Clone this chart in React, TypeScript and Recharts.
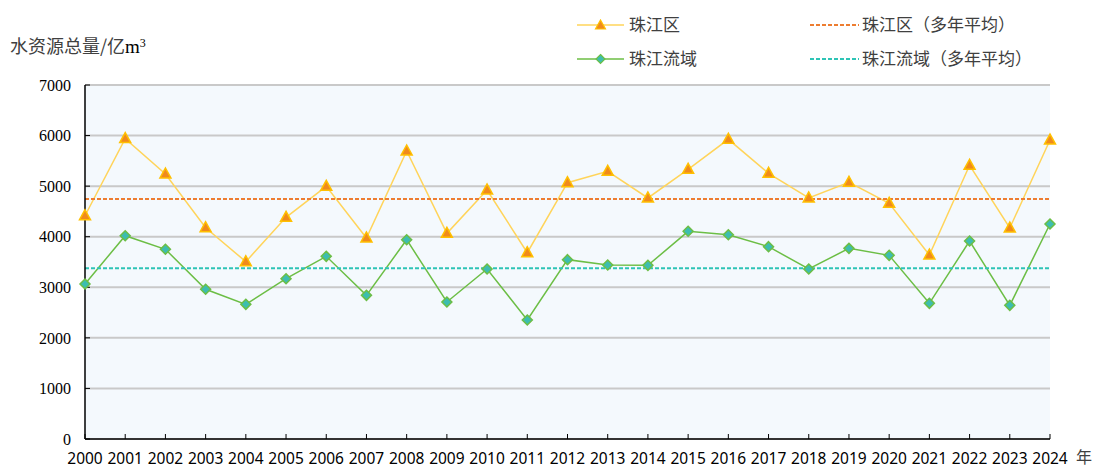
import React from 'react';
import { LineChart, Line, XAxis, YAxis, CartesianGrid, ReferenceLine } from 'recharts';

const years = ['2000','2001','2002','2003','2004','2005','2006','2007','2008','2009','2010','2011','2012','2013','2014','2015','2016','2017','2018','2019','2020','2021','2022','2023','2024'];
const zhujiangQu = [4415,5940,5240,4178,3506,4383,4996,3975,5695,4067,4924,3684,5068,5293,4766,5333,5926,5253,4766,5076,4660,3638,5412,4172,5912];
const zhujiangLiuyu = [3065,4020,3751,2960,2663,3170,3612,2841,3941,2709,3361,2353,3546,3441,3434,4107,4040,3803,3362,3770,3632,2683,3915,2643,4251];
const avgQu = 4746;
const avgLiuyu = 3375;
const yTicks = [0,1000,2000,3000,4000,5000,6000,7000];

const data = years.map((y, i) => ({ year: y, qu: zhujiangQu[i], liuyu: zhujiangLiuyu[i] }));

const YELLOW = '#FFD45A';
const TRI_FILL = '#F08A1C';
const TRI_STROKE = '#FFC000';
const GREEN = '#6CBE45';
const DIA_FILL = '#3DBDB0';
const ORANGE = '#ED7D31';
const TEAL = '#2EC4B6';

const Triangle = (props: any) => {
  const { cx, cy } = props;
  if (cx == null || cy == null) return null;
  return <polygon points={`${cx},${cy - 6} ${cx - 5.5},${cy + 4} ${cx + 5.5},${cy + 4}`} fill={TRI_FILL} stroke={TRI_STROKE} strokeWidth={1.5} />;
};
const Diamond = (props: any) => {
  const { cx, cy } = props;
  if (cx == null || cy == null) return null;
  return <polygon points={`${cx},${cy - 5} ${cx + 5},${cy} ${cx},${cy + 5} ${cx - 5},${cy}`} fill={DIA_FILL} stroke={GREEN} strokeWidth={1.5} />;
};

const cjk = '"Noto Sans CJK SC", "Noto Sans", sans-serif';
const txt: React.CSSProperties = { position: 'absolute', fontFamily: cjk, fontSize: 17, color: '#404040', whiteSpace: 'nowrap', lineHeight: '20px' };

const LegendItem = ({ x, y, kind, label }: { x: number; y: number; kind: string; label: string }) => (
  <>
    <svg style={{ position: 'absolute', left: x, top: y - 6 }} width={50} height={12}>
      {kind === 'tri' && (<>
        <line x1={0} y1={6} x2={47} y2={6} stroke={YELLOW} strokeWidth={1.5} />
        <polygon points="23.5,1 18.5,10 28.5,10" fill={TRI_FILL} stroke={TRI_STROKE} strokeWidth={1.2} />
      </>)}
      {kind === 'dia' && (<>
        <line x1={0} y1={6} x2={47} y2={6} stroke={GREEN} strokeWidth={1.5} />
        <polygon points="23.5,1.5 28,6 23.5,10.5 19,6" fill={DIA_FILL} stroke={GREEN} strokeWidth={1.2} />
      </>)}
      {kind === 'o' && <line x1={0} y1={6} x2={49} y2={6} stroke={ORANGE} strokeWidth={2} strokeDasharray="4 2" />}
      {kind === 't' && <line x1={0} y1={6} x2={49} y2={6} stroke={TEAL} strokeWidth={2} strokeDasharray="4 2" />}
    </svg>
    <span style={{ ...txt, left: x + 52, top: y - 11 }}>{label}</span>
  </>
);

export default function App() {
  return (
    <div style={{ position: 'absolute', left: 0, top: 0, width: 1098, height: 468, background: '#fff', overflow: 'hidden' }}>
      <LineChart width={1098} height={468} data={data} margin={{ top: 85, right: 48, bottom: 0, left: 0 }}>
        <CartesianGrid vertical={false} horizontal={true} fill="#F4F9FD" stroke="#C9C9C9" strokeWidth={2} />
        <XAxis
          dataKey="year"
          interval={0}
          height={29}
          axisLine={{ stroke: '#000', strokeWidth: 1.5 }}
          tickLine={{ stroke: '#000', strokeWidth: 1 }}
          tickSize={-5}
          tickMargin={19}
          tick={{ fontFamily: '"Noto Sans", sans-serif', fontSize: 15.5, fill: '#000' }}
        />
        <YAxis
          width={85}
          domain={[0, 7000]}
          ticks={yTicks}
          interval={0}
          axisLine={{ stroke: '#000', strokeWidth: 1.5 }}
          tickLine={{ stroke: '#000', strokeWidth: 1 }}
          tickSize={-5}
          tickMargin={19}
          tick={{ fontFamily: '"Liberation Serif", serif', fontSize: 16, fill: '#000' }}
        />
        <Line type="linear" dataKey="qu" stroke={YELLOW} strokeWidth={1.5} dot={<Triangle />} activeDot={false} isAnimationActive={false} />
        <Line type="linear" dataKey="liuyu" stroke={GREEN} strokeWidth={1.5} dot={<Diamond />} activeDot={false} isAnimationActive={false} />
        <ReferenceLine y={avgQu} stroke={ORANGE} strokeWidth={2} strokeDasharray="4 2" />
        <ReferenceLine y={avgLiuyu} stroke={TEAL} strokeWidth={2} strokeDasharray="4 2" />
      </LineChart>
      <div style={{ ...txt, left: 10, top: 32, fontSize: 18, lineHeight: '22px' }}>
        水资源总量/亿<span style={{ fontFamily: '"Liberation Serif", serif', fontSize: 19, color: '#000' }}>m<sup style={{ fontSize: 12, verticalAlign: '6px' }}>3</sup></span>
      </div>
      <div style={{ ...txt, left: 1076, top: 447, fontSize: 16, lineHeight: '18px' }}>年</div>
      <LegendItem x={577} y={25} kind="tri" label="珠江区" />
      <LegendItem x={577} y={59} kind="dia" label="珠江流域" />
      <LegendItem x={810} y={25} kind="o" label="珠江区（多年平均）" />
      <LegendItem x={810} y={59} kind="t" label="珠江流域（多年平均）" />
    </div>
  );
}
